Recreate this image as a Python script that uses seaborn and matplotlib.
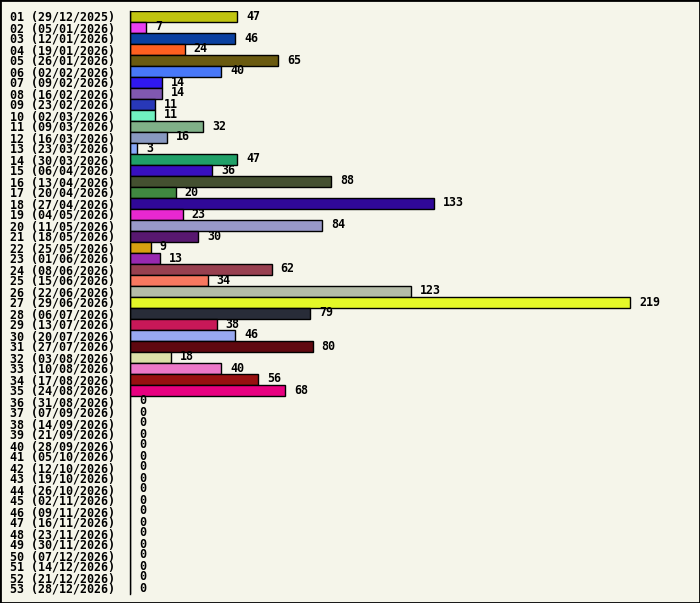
import matplotlib
matplotlib.use('Agg')
import matplotlib.pyplot as plt
import seaborn as sns
import pandas as pd
from matplotlib.patches import Rectangle

# Data
weeks = [f"{i:02d}" for i in range(1, 54)]
dates = [
    '29/12/2025', '05/01/2026', '12/01/2026', '19/01/2026', '26/01/2026', '02/02/2026',
    '09/02/2026', '16/02/2026', '23/02/2026', '02/03/2026', '09/03/2026', '16/03/2026',
    '23/03/2026', '30/03/2026', '06/04/2026', '13/04/2026', '20/04/2026', '27/04/2026',
    '04/05/2026', '11/05/2026', '18/05/2026', '25/05/2026', '01/06/2026', '08/06/2026',
    '15/06/2026', '22/06/2026', '29/06/2026', '06/07/2026', '13/07/2026', '20/07/2026',
    '27/07/2026', '03/08/2026', '10/08/2026', '17/08/2026', '24/08/2026', '31/08/2026',
    '07/09/2026', '14/09/2026', '21/09/2026', '28/09/2026', '05/10/2026', '12/10/2026',
    '19/10/2026', '26/10/2026', '02/11/2026', '09/11/2026', '16/11/2026', '23/11/2026',
    '30/11/2026', '07/12/2026', '14/12/2026', '21/12/2026', '28/12/2026',
]
counts = [47, 7, 46, 24, 65, 40, 14, 14, 11, 11, 32, 16, 3, 47, 36, 88, 20, 133,
          23, 84, 30, 9, 13, 62, 34, 123, 219, 79, 38, 46, 80, 18, 40, 56, 68] + [0] * 18
bar_colors = [
    '#c0c410', '#e840f0', '#0a40a0', '#ff6020', '#6a5a10', '#4878f8', '#3018f0',
    '#8058b0', '#2838b8', '#70f0c0', '#80b088', '#8898c0', '#88a8f8', '#20a068',
    '#3810c0', '#445030', '#408840', '#300898', '#e828d0', '#9898c8', '#581870',
    '#d8a010', '#9828b0', '#984050', '#f87860', '#b4bca8', '#e4f828', '#282c38',
    '#c81858', '#98a8f0', '#600810', '#dce0a8', '#ec78c8', '#981010', '#e80080',
] + ['#808080'] * 18

labels = [f"{w} ({d})" for w, d in zip(weeks, dates)]
df = pd.DataFrame({'label': labels, 'count': counts})

BG = '#f5f5ea'
FONT = 'DejaVu Sans Mono'

sns.set_theme(style='white')
plt.rcParams['font.family'] = [FONT, 'DejaVu Sans']

fig = plt.figure(figsize=(7.0, 6.03), dpi=100, facecolor=BG)
ax = fig.add_axes([130 / 700, 1 - 593.5 / 603, 560 / 700, 583 / 603])
ax.set_facecolor(BG)

sns.barplot(data=df, x='count', y='label', hue='label', palette=bar_colors,
            dodge=False, legend=False, width=1.0, edgecolor='black',
            linewidth=1.0, saturation=1.0, ax=ax)

ax.set_xlim(0, 219 * 560 / 500)
ax.set_ylim(len(labels) - 0.5, -0.5)
ax.set_xlabel('')
ax.set_ylabel('')
ax.set_xticks([])

for i, v in enumerate(counts):
    ax.annotate(str(v), xy=(v, i), xytext=(9, 0), textcoords='offset pixels',
                ha='left', va='center', fontsize=8.4, fontweight='bold',
                color='black', family=[FONT, 'DejaVu Sans'])

ax.tick_params(axis='y', length=0, pad=86.4)
for t in ax.get_yticklabels():
    t.set_ha('left')
    t.set_fontsize(8.4)
    t.set_fontweight('bold')
    t.set_color('black')

for side in ['top', 'right', 'bottom']:
    ax.spines[side].set_visible(False)
ax.spines['left'].set_color('black')
ax.spines['left'].set_linewidth(1.0)

# outer frame
fig.patches.append(Rectangle((0, 0), 1, 1, fill=False, edgecolor='black',
                             linewidth=2.0, transform=fig.transFigure))

fig.savefig('out.png', dpi=100, facecolor=BG)
